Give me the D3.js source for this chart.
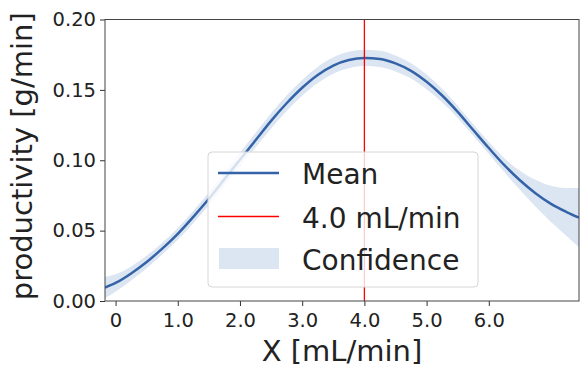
<!DOCTYPE html>
<html>
<head>
<meta charset="utf-8">
<script src="https://cdn.jsdelivr.net/npm/d3@7"></script>
<style>
  body { margin: 0; background: #fff; }
  text { font-family: "DejaVu Sans", sans-serif; fill: #222; }
</style>
</head>
<body>
<div id="viz"></div>
<script>
// values
const xs    = [-0.17, 0, 0.25, 0.5, 0.75, 1.0, 1.25, 1.5, 1.75, 2.0, 2.25, 2.5, 2.75, 3.0, 3.25, 3.5, 3.75, 4.0, 4.25, 4.5, 4.75, 5.0, 5.25, 5.5, 5.75, 6.0, 6.25, 6.5, 6.75, 7.0, 7.25, 7.45];
const means = [0.0095, 0.0128, 0.0196, 0.0277, 0.0372, 0.0477, 0.0598, 0.0726, 0.0866, 0.1004, 0.1142, 0.1280, 0.1405, 0.1515, 0.1606, 0.1673, 0.1712, 0.1727, 0.1720, 0.1688, 0.1635, 0.1557, 0.1460, 0.1344, 0.1215, 0.1087, 0.0965, 0.0858, 0.0766, 0.0690, 0.0632, 0.0592];
const halfw = [0.0075, 0.0062, 0.0050, 0.0044, 0.0042, 0.0042, 0.0043, 0.0045, 0.0047, 0.0050, 0.0052, 0.0054, 0.0055, 0.0056, 0.0057, 0.0058, 0.0058, 0.0058, 0.0058, 0.0057, 0.0055, 0.0052, 0.0048, 0.0044, 0.0041, 0.0042, 0.0050, 0.0068, 0.0095, 0.0128, 0.0170, 0.0210];
const xTicks = [0, 1, 2, 3, 4, 5, 6];
const xTickLabels = ["0", "1.0", "2.0", "3.0", "4.0", "5.0", "6.0"];
const yTicks = [0, 0.05, 0.10, 0.15, 0.20];
const vline = 4.0;
const legendLabels = ["Mean", "4.0 mL/min", "Confidence"];

const width = 581, height = 367;
const mLeft = 105, mRight = 579, mTop = 19.5, mBottom = 301;
const lineColor = "#3563a8";
const bandColor = "#dce5f2";

const data = xs.map((x, i) => ({ x: x, m: means[i], lo: means[i] - halfw[i], hi: means[i] + halfw[i] }));

const svg = d3.select("#viz").append("svg")
    .attr("width", width)
    .attr("height", height);

const x = d3.scaleLinear().domain([-0.17, 7.45]).range([mLeft, mRight]);
const y = d3.scaleLinear().domain([0, 0.2]).range([mBottom, mTop]);

svg.append("defs").append("clipPath").attr("id", "clip")
    .append("rect").attr("x", mLeft).attr("y", mTop).attr("width", mRight - mLeft).attr("height", mBottom - mTop);

const plot = svg.append("g").attr("clip-path", "url(#clip)");

plot.append("path")
    .datum(data)
    .attr("fill", bandColor)
    .attr("d", d3.area().x(d => x(d.x)).y0(d => y(d.lo)).y1(d => y(d.hi)).curve(d3.curveMonotoneX));

plot.append("path")
    .datum(data)
    .attr("fill", "none")
    .attr("stroke", lineColor)
    .attr("stroke-width", 2.5)
    .attr("d", d3.line().x(d => x(d.x)).y(d => y(d.m)).curve(d3.curveMonotoneX));

plot.append("line")
    .attr("x1", x(vline)).attr("x2", x(vline))
    .attr("y1", mTop).attr("y2", mBottom)
    .attr("stroke", "red").attr("stroke-width", 1.3);

// axes
const xAxis = svg.append("g")
    .attr("transform", `translate(0,${mBottom})`)
    .call(d3.axisBottom(x).tickValues(xTicks).tickFormat((d, i) => xTickLabels[i]).tickSize(5).tickPadding(7));
const yAxis = svg.append("g")
    .attr("transform", `translate(${mLeft},0)`)
    .call(d3.axisLeft(y).tickValues(yTicks).tickFormat(d3.format(".2f")).tickSize(5).tickPadding(4));

[xAxis, yAxis].forEach(g => {
    g.select(".domain").remove();
    g.selectAll(".tick line").attr("stroke", "#333");
    g.selectAll(".tick text").style("font-size", "19.5px").style("fill", "#222");
});

// frame
svg.append("rect")
    .attr("x", mLeft).attr("y", mTop)
    .attr("width", mRight - mLeft).attr("height", mBottom - mTop)
    .attr("fill", "none").attr("stroke", "#444").attr("stroke-width", 1);

// axis labels
svg.append("text")
    .attr("x", (mLeft + mRight) / 2).attr("y", 361)
    .attr("text-anchor", "middle")
    .style("font-size", "29px")
    .text("X [mL/min]");

svg.append("text")
    .attr("transform", `translate(32,${(mTop + mBottom) / 2 - 4}) rotate(-90)`)
    .attr("text-anchor", "middle")
    .style("font-size", "29px")
    .text("productivity [g/min]");

// legend
const legend = svg.append("g");
legend.append("rect")
    .attr("x", 208).attr("y", 152)
    .attr("width", 270).attr("height", 135)
    .attr("rx", 4)
    .attr("fill", "white").attr("fill-opacity", 0.8)
    .attr("stroke", "#d6d6d6");

const rowY = [173, 216.5, 259];
legend.append("line")
    .attr("x1", 218).attr("x2", 279).attr("y1", rowY[0]).attr("y2", rowY[0])
    .attr("stroke", lineColor).attr("stroke-width", 2.7);
legend.append("line")
    .attr("x1", 218).attr("x2", 279).attr("y1", rowY[1]).attr("y2", rowY[1])
    .attr("stroke", "red").attr("stroke-width", 1.3);
legend.append("rect")
    .attr("x", 219).attr("y", 248).attr("width", 60).attr("height", 21)
    .attr("fill", bandColor);

legend.selectAll("text.lab")
    .data(legendLabels)
    .enter().append("text")
    .attr("class", "lab")
    .attr("x", 302)
    .attr("y", (d, i) => rowY[i] + 11)
    .style("font-size", "28px")
    .text(d => d);
</script>
</body>
</html>
